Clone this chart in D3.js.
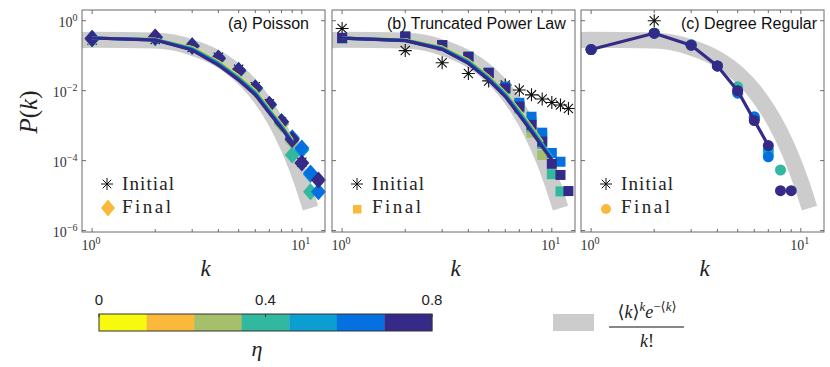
<!DOCTYPE html>
<html>
<head>
<meta charset="utf-8">
<script src="https://cdn.jsdelivr.net/npm/d3@7"></script>
<style>
body { margin: 0; background: #fff; }
text { font-family: "Liberation Serif", "DejaVu Serif", serif; fill: #222; }
.sans { font-family: "Liberation Sans", Arial, sans-serif; }
</style>
</head>
<body>
<script>
// ---- data ----
var etaTicks = [0, 0.4, 0.8];
var etaColors = ["#f8fa0d", "#fbb93b", "#a6bf6a", "#32b89f", "#0a9fd0", "#0570e0", "#352a87"];

// poisson reference band  <k>^k e^-<k> / k!
var kBand = [0.8, 1, 2, 3, 4, 5, 6, 7, 8, 9, 10, 11];
var pBand = [0.268, 0.284, 0.270, 0.171, 0.0812, 0.0309, 0.00977, 0.00265, 0.00063, 0.000133, 0.0000253, 0.0000044];

var kAll = [1, 2, 3, 4, 5, 6, 7, 8, 9, 10, 11, 12];

// (a) Poisson
var initA = [0.28, 0.29, 0.17, 0.09, 0.041, 0.013, 0.0042, 0.0013, 0.0004, 0.00009];
var finalA = [
  [0.30, 0.33, 0.19, 0.080, 0.036, 0.011, 0.0038, 0.0011, null, null, null, null],
  [0.30, 0.33, 0.19, 0.080, 0.036, 0.011, 0.0038, 0.0011, null, null, null, null],
  [0.30, 0.33, 0.19, 0.080, 0.036, 0.011, 0.0038, 0.0011, 0.00035, null, null, null],
  [0.30, 0.33, 0.19, 0.080, 0.036, 0.011, 0.0038, 0.0012, 0.000145, null, 0.000013, null],
  [0.31, 0.33, 0.19, 0.085, 0.037, 0.012, 0.0040, 0.0013, 0.00042, 0.00020, 0.00004, null],
  [0.31, 0.33, 0.19, 0.085, 0.038, 0.012, 0.0040, 0.0013, 0.00045, 0.00023, 0.000044, 0.000013],
  [0.31, 0.34, 0.19, 0.085, 0.038, 0.012, 0.0041, 0.0013, 0.00040, 0.000085, null, 0.000028]
];
var kLineA = [1, 2, 3, 4, 5, 6, 7, 8, 9];
var lineA = [
  [0.32, 0.295, 0.172, 0.068, 0.026, 0.0100, 0.0030, 0.00108, 0.00039],
  [0.32, 0.293, 0.168, 0.066, 0.025, 0.0097, 0.0029, 0.00105, 0.00038],
  [0.32, 0.29, 0.165, 0.064, 0.024, 0.0093, 0.0028, 0.00101, 0.00037],
  [0.32, 0.288, 0.160, 0.062, 0.023, 0.0089, 0.0027, 0.00097, 0.00036],
  [0.32, 0.285, 0.155, 0.059, 0.022, 0.0085, 0.0026, 0.00093, 0.00035],
  [0.32, 0.283, 0.150, 0.057, 0.021, 0.0080, 0.0024, 0.00089, 0.00033],
  [0.32, 0.28, 0.145, 0.054, 0.020, 0.0076, 0.0023, 0.00085, 0.00032]
];

// (b) Truncated power law
var initB = [0.60, 0.14, 0.063, 0.031, 0.019, 0.0145, 0.0105, 0.0076, 0.0058, 0.0046, 0.0039, 0.0031];
var finalB = [
  [0.32, 0.35, 0.20, 0.093, 0.032, 0.0117, 0.0035, null, null, null, null, null],
  [0.32, 0.35, 0.20, 0.093, 0.032, 0.0117, 0.0035, null, null, null, null, null],
  [0.31, 0.34, 0.20, 0.090, 0.031, 0.0110, 0.0030, 0.00063, 0.000145, null, null, null],
  [0.31, 0.34, 0.20, 0.090, 0.031, 0.0110, 0.0032, 0.0009, 0.0003, 0.000041, 0.0000132, null],
  [0.32, 0.35, 0.20, 0.093, 0.032, 0.0120, 0.0040, 0.0014, 0.0005, null, null, null],
  [0.32, 0.35, 0.20, 0.093, 0.033, 0.0130, 0.0045, 0.0018, 0.00063, 0.000166, 0.000093, null],
  [0.32, 0.35, 0.20, 0.093, 0.032, 0.0117, 0.0035, 0.00105, 0.00035, 0.000081, 0.000039, 0.0000135]
];
var kLineB = [1, 2, 3, 4, 5, 6, 7, 8, 9, 10];
var lineB = [
  [0.316, 0.285, 0.176, 0.074, 0.0255, 0.0087, 0.0027, 0.00092, 0.00034, null],
  [0.316, 0.283, 0.173, 0.072, 0.025, 0.0085, 0.0026, 0.0009, 0.00033, null],
  [0.316, 0.28, 0.169, 0.070, 0.024, 0.0082, 0.0025, 0.00086, 0.00032, null],
  [0.316, 0.278, 0.165, 0.068, 0.0232, 0.0079, 0.0024, 0.00082, 0.00030, 0.000125],
  [0.316, 0.275, 0.160, 0.065, 0.0222, 0.0075, 0.0023, 0.00077, 0.00028, 0.00012],
  [0.316, 0.272, 0.155, 0.062, 0.0213, 0.0071, 0.0021, 0.00072, 0.00026, 0.000112],
  [0.316, 0.269, 0.151, 0.060, 0.0204, 0.0068, 0.0020, 0.00068, 0.00025, 0.000105]
];

// (c) Degree regular
var initC = [null, 1.0];
var finalC = [
  [0.15, 0.44, 0.20, 0.051, null, null, null, null, null],
  [0.15, 0.44, 0.20, 0.051, null, null, null, null, null],
  [0.15, 0.44, 0.20, 0.051, null, null, null, null, null],
  [0.15, 0.44, 0.21, 0.051, 0.0129, 0.0016, 0.00016, 0.000054, null],
  [0.15, 0.44, 0.20, 0.051, 0.0100, 0.0017, 0.00020, null, null],
  [0.15, 0.44, 0.20, 0.051, 0.0085, 0.0018, 0.000129, null, null],
  [0.15, 0.44, 0.20, 0.051, 0.0100, 0.0014, 0.00027, 0.0000138, 0.0000138]
];
var kLineC = [1, 2, 3, 4, 5, 6, 7];
var lineC = [
  [0.15, 0.44, 0.20, 0.051, 0.0100, 0.0014, 0.00027]
];

var xTicks = [1, 10];
var xMinor = [2, 3, 4, 5, 6, 7, 8, 9];
var yTicks = [1, 1e-2, 1e-4, 1e-6];
var yExp = ["0", "\u22122", "\u22124", "\u22126"];

// ---- layout ----
var W = 830, H = 367;
var top0 = 10, pw = 243, ph = 222;

var svg = d3.select("body").append("svg")
    .attr("width", W)
    .attr("height", H);

var xMap = d3.scaleLog().domain([0.895, 12.9]).range([0, pw]);
var yMap = d3.scaleLog().domain([Math.pow(10, -6.04), Math.pow(10, 0.306)]).range([ph, 0]);

function asterisk(s) {
  var a = s * 0.707;
  return "M0," + (-s) + "L0," + s + "M" + (-s) + ",0L" + s + ",0" +
         "M" + (-a) + "," + (-a) + "L" + a + "," + a + "M" + (-a) + "," + a + "L" + a + "," + (-a);
}
function diamond(w, h) {
  return "M0," + (-h) + "L" + w + ",0L0," + h + "L" + (-w) + ",0Z";
}

var panels = [
  {id: "a", left: 82, title: "(a) Poisson", tx: 228, init: initA, fin: finalA, kl: kLineA, lines: lineA, shape: "diamond", lineColors: etaColors, yLabels: true},
  {id: "b", left: 332, title: "(b) Truncated Power Law", tx: 387, init: initB, fin: finalB, kl: kLineB, lines: lineB, shape: "square", lineColors: etaColors, yLabels: false},
  {id: "c", left: 581, title: "(c) Degree Regular", tx: 681, init: initC, fin: finalC, kl: kLineC, lines: lineC, shape: "circle", lineColors: [etaColors[6]], yLabels: false}
];

var bandLine = d3.line()
    .x(function(d) { return xMap(d[0]); })
    .y(function(d) { return yMap(d[1]); })
    .curve(d3.curveMonotoneX);

panels.forEach(function(p) {
  var g = svg.append("g").attr("transform", "translate(" + p.left + "," + top0 + ")");

  g.append("clipPath").attr("id", "clip" + p.id)
    .append("rect").attr("width", pw).attr("height", ph);

  var plot = g.append("g");

  // gray reference band
  plot.append("path")
      .datum(d3.zip(kBand, pBand))
      .attr("clip-path", "url(#clip" + p.id + ")")
      .attr("d", bandLine)
      .attr("fill", "none")
      .attr("stroke", "#cccccc")
      .attr("stroke-width", 16)
      .attr("stroke-linecap", "butt");

  // initial distribution
  plot.selectAll(".ini")
      .data(p.init.map(function(v, i) { return [kAll[i], v]; }).filter(function(d) { return d[1] != null; }))
    .enter().append("path")
      .attr("class", "ini")
      .attr("transform", function(d) { return "translate(" + xMap(d[0]) + "," + yMap(d[1]) + ")"; })
      .attr("d", asterisk(6.5))
      .attr("stroke", "#111")
      .attr("stroke-width", 1.1)
      .attr("fill", "none");

  // final distributions, one series per eta
  p.fin.forEach(function(series, si) {
    var pts = series.map(function(v, i) { return [kAll[i], v]; }).filter(function(d) { return d[1] != null; });
    var sel = plot.selectAll(".f" + si).data(pts).enter();
    if (p.shape === "diamond") {
      sel.append("path")
        .attr("transform", function(d) { return "translate(" + xMap(d[0]) + "," + yMap(d[1]) + ")"; })
        .attr("d", diamond(7.5, 8.5))
        .attr("fill", etaColors[si]);
    } else if (p.shape === "square") {
      sel.append("rect")
        .attr("x", function(d) { return xMap(d[0]) - 5; })
        .attr("y", function(d) { return yMap(d[1]) - 5; })
        .attr("width", 10).attr("height", 10)
        .attr("fill", etaColors[si]);
    } else {
      sel.append("circle")
        .attr("cx", function(d) { return xMap(d[0]); })
        .attr("cy", function(d) { return yMap(d[1]); })
        .attr("r", 5.5)
        .attr("fill", etaColors[si]);
    }
  });

  // fitted lines
  var ln = d3.line()
      .defined(function(d) { return d[1] != null; })
      .x(function(d) { return xMap(d[0]); })
      .y(function(d) { return yMap(d[1]); });
  p.lines.forEach(function(series, si) {
    plot.append("path")
        .datum(d3.zip(p.kl, series))
        .attr("clip-path", "url(#clip" + p.id + ")")
        .attr("d", ln)
        .attr("fill", "none")
        .attr("stroke", p.lineColors[si])
        .attr("stroke-width", 3.2)
        .attr("stroke-linejoin", "round");
  });

  // box
  g.append("rect")
      .attr("width", pw).attr("height", ph)
      .attr("fill", "none")
      .attr("stroke", "#6b6b6b")
      .attr("stroke-width", 1);

  // ticks (inward, all four sides)
  var tk = g.append("g").attr("stroke", "#6b6b6b").attr("stroke-width", 1);
  xTicks.concat(xMinor).forEach(function(k) {
    var x = xMap(k), len = xTicks.indexOf(k) >= 0 ? 4 : 3;
    tk.append("line").attr("x1", x).attr("x2", x).attr("y1", ph).attr("y2", ph - len);
    tk.append("line").attr("x1", x).attr("x2", x).attr("y1", 0).attr("y2", len);
  });
  yTicks.forEach(function(v) {
    var y = yMap(v);
    tk.append("line").attr("x1", 0).attr("x2", 4).attr("y1", y).attr("y2", y);
    tk.append("line").attr("x1", pw).attr("x2", pw - 4).attr("y1", y).attr("y2", y);
  });

  // x tick labels
  xTicks.forEach(function(k, i) {
    var t = g.append("text")
        .attr("x", xMap(k) - 1)
        .attr("y", ph + 18)
        .attr("text-anchor", "middle")
        .style("font-size", "14px")
        .style("fill", "#333");
    t.append("tspan").text("10");
    t.append("tspan").attr("dy", -6).style("font-size", "10px").text(String(i));
  });

  // y tick labels
  if (p.yLabels) {
    yTicks.forEach(function(v, i) {
      var t = g.append("text")
          .attr("x", -4.5)
          .attr("y", yMap(v) + 6)
          .attr("text-anchor", "end")
          .style("font-size", "14px")
          .style("fill", "#333");
      t.append("tspan").text("10");
      t.append("tspan").attr("dy", -6).style("font-size", "10px").text(yExp[i]);
    });
  }

  // panel title
  g.append("text")
      .attr("class", "sans")
      .attr("x", p.tx - p.left)
      .attr("y", 19)
      .style("font-size", "16px")
      .style("fill", "#111")
      .text(p.title);

  // x label
  g.append("text")
      .attr("x", pw / 2 + 2)
      .attr("y", ph + 44)
      .attr("text-anchor", "middle")
      .style("font-size", "23px")
      .style("font-style", "italic")
      .text("k");

  // in-panel legend
  var lg = g.append("g").attr("transform", "translate(25,0)");
  lg.append("path")
      .attr("transform", "translate(0," + 174 + ")")
      .attr("d", asterisk(6))
      .attr("stroke", "#111").attr("fill", "none");
  if (p.shape === "diamond") {
    lg.append("path").attr("transform", "translate(1,198)").attr("d", diamond(7, 8.5)).attr("fill", etaColors[1]);
  } else if (p.shape === "square") {
    lg.append("rect").attr("x", -4).attr("y", 195).attr("width", 8.5).attr("height", 8.5).attr("fill", etaColors[1]);
  } else {
    lg.append("circle").attr("cx", 0).attr("cy", 199).attr("r", 5).attr("fill", etaColors[1]);
  }
  lg.append("text").attr("x", 15).attr("y", 180)
      .attr("textLength", 52).attr("lengthAdjust", "spacing")
      .style("font-size", "19px").text("Initial");
  lg.append("text").attr("x", 15).attr("y", 203)
      .attr("textLength", 49).attr("lengthAdjust", "spacing")
      .style("font-size", "19px").text("Final");
});

// y label
var yl = svg.append("text")
    .attr("transform", "translate(37,112) rotate(-90)")
    .attr("text-anchor", "middle")
    .style("font-size", "25px");
yl.append("tspan").style("font-style", "italic").text("P");
yl.append("tspan").text("(");
yl.append("tspan").style("font-style", "italic").text("k");
yl.append("tspan").text(")");

// ---- colorbar ----
var cb = {x: 99, y: 314, w: 333, h: 17};
var cMap = d3.scaleLinear().domain([0, 0.8]).range([cb.x, cb.x + cb.w]);
var binW = 0.8 / etaColors.length;
svg.selectAll(".cbin")
    .data(etaColors)
  .enter().append("rect")
    .attr("class", "cbin")
    .attr("x", function(d, i) { return cMap(i * binW); })
    .attr("y", cb.y)
    .attr("width", function(d, i) { return cMap((i + 1) * binW) - cMap(i * binW) + 0.3; })
    .attr("height", cb.h)
    .attr("fill", function(d) { return d; });
svg.append("rect")
    .attr("x", cb.x).attr("y", cb.y).attr("width", cb.w).attr("height", cb.h)
    .attr("fill", "none").attr("stroke", "#333").attr("stroke-width", 1);
etaTicks.forEach(function(v) {
  svg.append("line")
      .attr("x1", cMap(v)).attr("x2", cMap(v))
      .attr("y1", cb.y).attr("y2", cb.y + 3)
      .attr("stroke", "#333");
  svg.append("text")
      .attr("class", "sans")
      .attr("x", cMap(v))
      .attr("y", 305)
      .attr("text-anchor", "middle")
      .style("font-size", "15px")
      .style("fill", "#222")
      .text(String(v));
});
svg.append("text")
    .attr("x", 257).attr("y", 356)
    .attr("text-anchor", "middle")
    .style("font-size", "22px")
    .style("font-style", "italic")
    .text("\u03b7");

// ---- reference legend ----
svg.append("rect")
    .attr("x", 553).attr("y", 314).attr("width", 41).attr("height", 17)
    .attr("fill", "#cccccc");
var num = svg.append("text")
    .attr("x", 647).attr("y", 318)
    .attr("text-anchor", "middle")
    .style("font-size", "18px");
num.append("tspan").text("\u27e8");
num.append("tspan").style("font-style", "italic").text("k");
num.append("tspan").text("\u27e9");
num.append("tspan").attr("dy", -7).style("font-size", "13px").style("font-style", "italic").text("k");
num.append("tspan").attr("dy", 7).style("font-style", "italic").text("e");
num.append("tspan").attr("dy", -7).style("font-size", "13px").text("\u2212\u27e8");
num.append("tspan").style("font-size", "13px").style("font-style", "italic").text("k");
num.append("tspan").style("font-size", "13px").text("\u27e9");
svg.append("line")
    .attr("x1", 609).attr("x2", 684).attr("y1", 327).attr("y2", 327)
    .attr("stroke", "#111").attr("stroke-width", 1);
var den = svg.append("text")
    .attr("x", 647).attr("y", 347)
    .attr("text-anchor", "middle")
    .style("font-size", "18px");
den.append("tspan").style("font-style", "italic").text("k");
den.append("tspan").text("!");
</script>
</body>
</html>
